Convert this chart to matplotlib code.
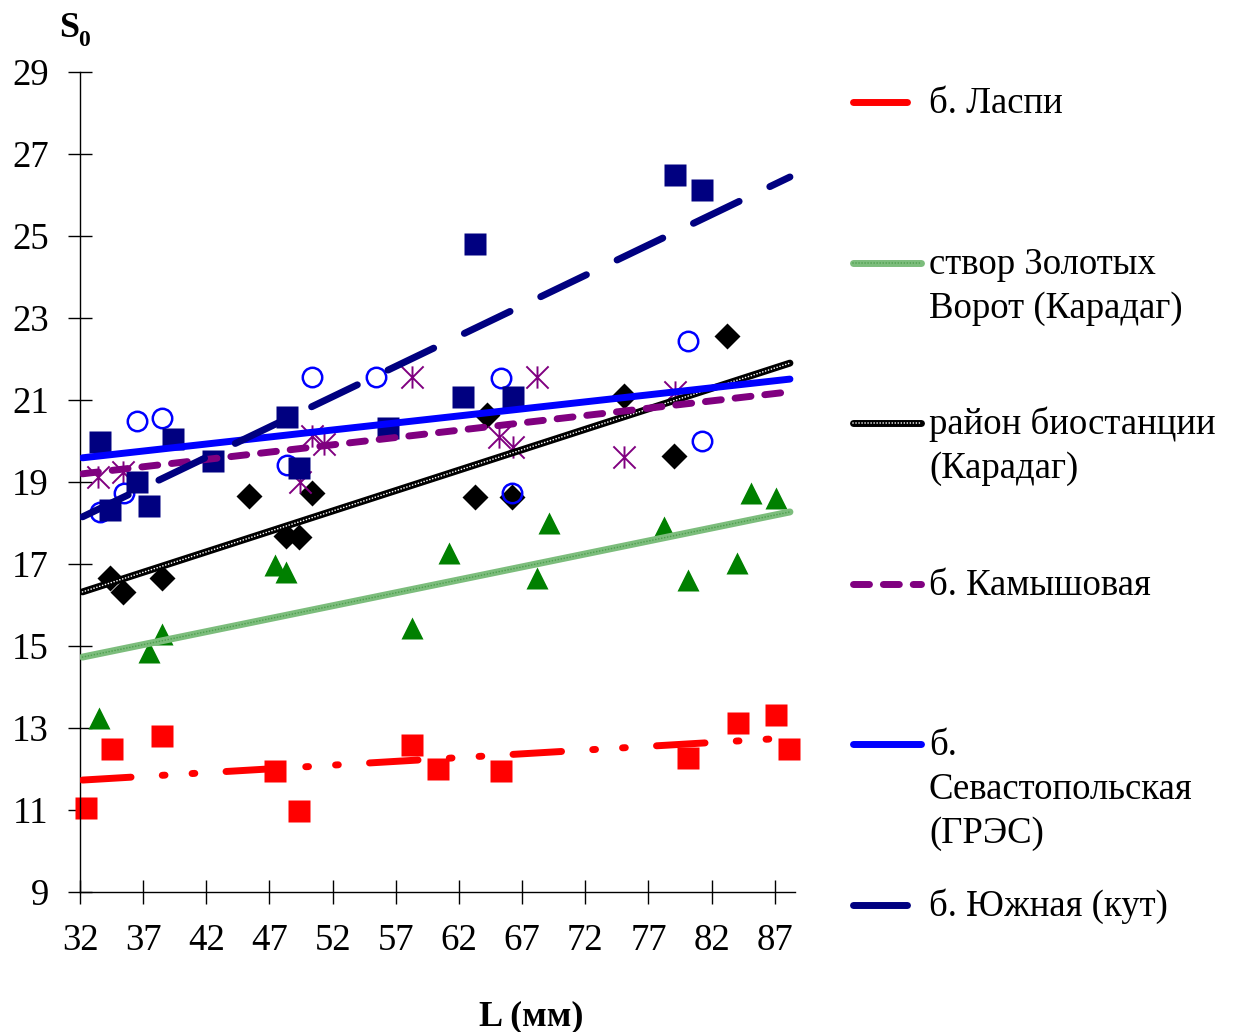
import matplotlib
matplotlib.use("Agg")
import matplotlib.pyplot as plt
from matplotlib.lines import Line2D
from matplotlib.path import Path

plt.rcParams['font.family'] = ['Liberation Serif', 'DejaVu Serif']

W, H = 1237, 1032

# L (mm) vs S0 by site
laspi_x = [32.5, 34.5, 38.5, 47.4, 49.3, 58.3, 60.3, 65.3, 80.1, 84.1, 87.1, 88.1]
laspi_y = [11.05, 12.5, 12.8, 11.95, 10.98, 12.59, 12.0, 11.95, 12.27, 13.12, 13.32, 12.5]

zoloto_x = [33.5, 37.5, 38.5, 47.4, 48.3, 58.3, 61.2, 68.2, 69.1, 78.2, 80.1, 84.0, 85.1, 87.1]
zoloto_y = [13.25, 14.85, 15.3, 16.98, 16.8, 15.44, 17.26, 16.66, 18.0, 17.9, 16.6, 17.02, 18.72, 18.62]

bio_x = [34.4, 35.4, 38.5, 45.4, 48.3, 49.3, 50.4, 63.3, 64.2, 66.2, 75.1, 79.0, 83.2]
bio_y = [16.66, 16.32, 16.66, 18.66, 17.68, 17.66, 18.73, 18.63, 20.63, 18.63, 21.1, 19.63, 22.56]

kam_x = [33.4, 35.4, 49.4, 50.4, 51.3, 58.3, 65.2, 66.3, 68.2, 75.1, 79.1]
kam_y = [19.12, 19.24, 19.0, 20.12, 19.92, 21.56, 20.1, 19.85, 21.56, 19.6, 21.2]

sev_x = [33.6, 35.5, 36.5, 38.5, 48.4, 50.4, 55.4, 65.3, 66.2, 80.1, 81.2]
sev_y = [18.27, 18.73, 20.5, 20.56, 19.41, 21.56, 21.56, 21.54, 18.73, 22.44, 20.0]

yuzh_x = [33.6, 34.4, 36.5, 37.5, 39.4, 42.5, 48.4, 49.3, 56.4, 62.3, 63.3, 66.3, 79.1, 81.2]
yuzh_y = [19.98, 18.32, 19.0, 18.41, 20.05, 19.51, 20.59, 19.34, 20.32, 21.07, 24.8, 21.07, 26.49, 26.12]

# linear trends, value at both ends of trend_x
trend_x = [32.2, 88.2]
laspi_trend = [11.73, 12.76]
zoloto_trend = [14.73, 18.27]
bio_trend = [16.32, 21.9]
kam_trend = [19.2, 21.2]
sev_trend = [19.59, 21.51]
yuzh_trend = [18.15, 26.44]

labels = [["б. Ласпи"],
          ["створ Золотых", "Ворот (Карадаг)"],
          ["район биостанции", "(Карадаг)"],
          ["б. Камышовая"],
          ["б.", "Севастопольская", "(ГРЭС)"],
          ["б. Южная (кут)"]]

# six-spoke star marker
star = Path([(0, -1), (0, 1), (-1, -1), (1, 1), (-1, 1), (1, -1)],
            [Path.MOVETO, Path.LINETO] * 3)

LW = 5
KAM_DASH = (0, (2.3, 2.0))
series = [
    dict(x=laspi_x, y=laspi_y, t=laspi_trend,
         mk=dict(marker='s', ms=15.5, mfc='#ff0000', mec='none'),
         ln=dict(color='#ff0000', ls=(0, (7.0, 4.5, 0.4, 3.9, 0.4, 4.5)))),
    dict(x=zoloto_x, y=zoloto_y, t=zoloto_trend,
         mk=dict(marker='^', ms=16, mfc='#008000', mec='none'),
         ln=dict(color='#7cbd7c', ls='-'), dots='#4f9f4f'),
    dict(x=bio_x, y=bio_y, t=bio_trend,
         mk=dict(marker='D', ms=13, mfc='black', mec='none'),
         ln=dict(color='black', ls='-'), dots='white'),
    dict(x=kam_x, y=kam_y, t=kam_trend,
         mk=dict(marker=star, ms=16, mfc='none', mec='#800080', mew=1.4),
         ln=dict(color='#800080', ls=KAM_DASH)),
    dict(x=sev_x, y=sev_y, t=sev_trend,
         mk=dict(marker='o', ms=14, mfc='none', mec='#0000ff', mew=1.8),
         ln=dict(color='#0000ff', ls='-')),
    dict(x=yuzh_x, y=yuzh_y, t=yuzh_trend,
         mk=dict(marker='s', ms=15.5, mfc='#000080', mec='none'),
         ln=dict(color='#000080', ls=(0, (7.3, 4.9)))),
]

fig = plt.figure(figsize=(W / 100, H / 100), dpi=100)
ax = fig.add_axes([80 / W, 1 - 892 / H, 715 / W, 820 / H])


def fx(px):
    return px / W


def fy(py):
    return 1 - py / H


for s in series:
    ax.plot(s['x'], s['y'], ls='none', zorder=2, clip_on=False, **s['mk'])

for s in series:
    ax.plot(trend_x, s['t'], lw=LW, solid_capstyle='round', dash_capstyle='round',
            zorder=3, color=s['ln']['color'], ls=s['ln']['ls'])
    if 'dots' in s:
        ax.plot(trend_x, s['t'], lw=1.2, color=s['dots'], ls=(0, (0.01, 1.8)),
                dash_capstyle='round', zorder=3)

ax.set_xlim(32, 88.6)
ax.set_ylim(9, 29)
ax.set_xticks(range(32, 88, 5))
ax.set_yticks(range(9, 30, 2))
for side in ['top', 'right']:
    ax.spines[side].set_visible(False)
for side in ['left', 'bottom']:
    ax.spines[side].set_linewidth(1)
    ax.spines[side].set_color('black')
ax.tick_params(direction='inout', length=17, width=1, labelsize=26.5, pad=14)

# axis titles
fig.text(fx(59), fy(37), 'S', fontsize=26, fontweight='bold', va='baseline', ha='left')
fig.text(fx(78), fy(46), '0', fontsize=17, fontweight='bold', va='baseline', ha='left')
fig.text(fx(531), fy(1025), 'L (мм)', fontsize=26, fontweight='bold',
         va='baseline', ha='center')

# legend
row_y = [102, 263, 423, 584, 744, 905]
handle_end = [910, 924, 924, 924, 924, 910]
for s, lab, ry, xe in zip(series, labels, row_y, handle_end):
    ls = KAM_DASH if s['ln']['ls'] == KAM_DASH else '-'
    fig.add_artist(Line2D([fx(853), fx(xe - 3)], [fy(ry)] * 2, lw=LW,
                          color=s['ln']['color'], ls=ls, solid_capstyle='round',
                          dash_capstyle='round'))
    if 'dots' in s:
        fig.add_artist(Line2D([fx(853), fx(xe - 3)], [fy(ry)] * 2, lw=1.2,
                              color=s['dots'], ls=(0, (0.01, 1.8)),
                              dash_capstyle='round'))
    for i, line in enumerate(lab):
        fig.text(fx(929), fy(ry + 11 + 44 * i), line, fontsize=26.5,
                 va='baseline', ha='left')

fig.savefig('out.png', dpi=100)
